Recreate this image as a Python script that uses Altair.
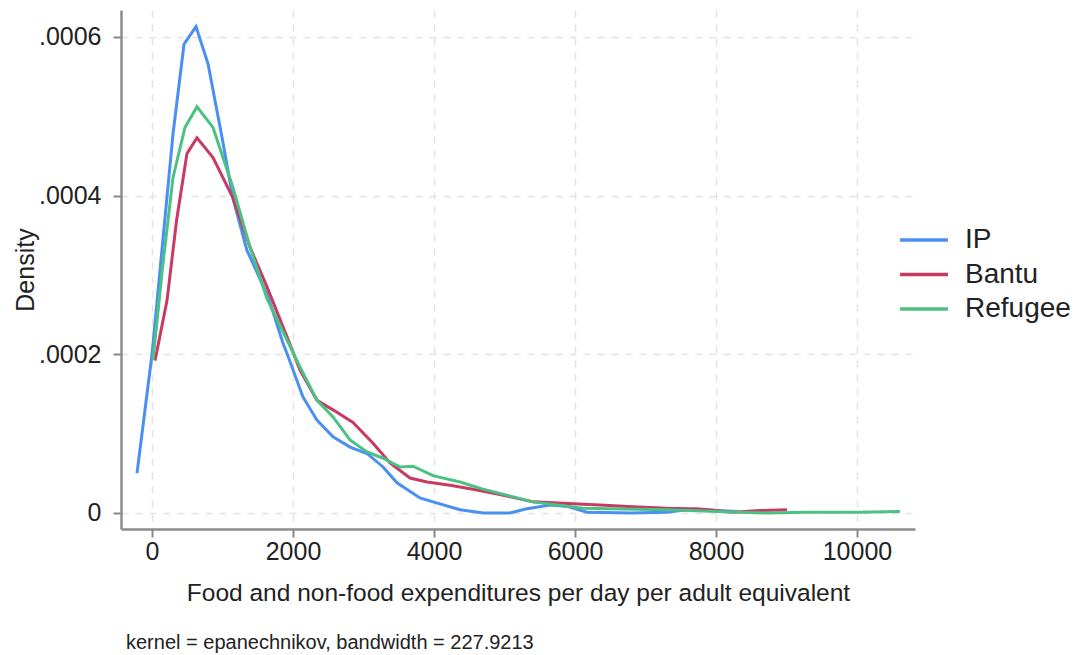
import altair as alt
import pandas as pd

# Density values read in units of 1e-4
ip_x = [-213, 0, 150, 298, 454, 624, 795, 1000, 1149, 1347, 1650, 1858, 1915, 2142, 2340,
        2567, 2809, 3050, 3277, 3475, 3801, 3986, 4369, 4700, 5078, 5300, 5645, 5900, 6170,
        6800, 7300, 7674, 8014, 8300]
ip_d = [0.50, 2.00, 3.40, 4.78, 5.91, 6.13, 5.66, 4.70, 3.96, 3.31, 2.72, 2.14, 2.01, 1.46, 1.17,
        0.96, 0.83, 0.75, 0.58, 0.38, 0.19, 0.14, 0.04, 0.00, 0.00, 0.05, 0.10, 0.08, 0.01,
        0.00, 0.01, 0.05, 0.03, 0.02]

bantu_x = [43, 213, 350, 496, 638, 865, 1149, 1390, 1631, 1915, 2099, 2340, 2567, 2851, 3135,
           3376, 3660, 3901, 4227, 4553, 4900, 5404, 5900, 6355, 6823, 7300, 7773, 8241, 8624, 9007]
bantu_d = [1.92, 2.68, 3.70, 4.53, 4.73, 4.48, 3.97, 3.35, 2.85, 2.22, 1.80, 1.42, 1.30, 1.14, 0.88,
           0.63, 0.44, 0.39, 0.35, 0.30, 0.24, 0.14, 0.12, 0.10, 0.08, 0.06, 0.05, 0.01, 0.03, 0.04]

ref_x = [14, 150, 298, 468, 638, 865, 1149, 1390, 1631, 1915, 2099, 2340, 2567, 2809, 3050,
         3277, 3518, 3702, 3986, 4369, 4695, 5404, 6113, 6700, 7300, 8014, 8723, 9300, 10000, 10610]
ref_d = [1.93, 3.10, 4.23, 4.86, 5.12, 4.86, 4.10, 3.35, 2.70, 2.18, 1.84, 1.42, 1.21, 0.92, 0.77,
         0.69, 0.58, 0.59, 0.47, 0.39, 0.30, 0.14, 0.06, 0.05, 0.04, 0.02, 0.00, 0.01, 0.01, 0.02]

groups = ["IP", "Bantu", "Refugee"]
colors = ["#4a8ff2", "#c93a63", "#4cc184"]
x_ticks = [0, 2000, 4000, 6000, 8000, 10000]
y_ticks = [0, 0.0002, 0.0004, 0.0006]
note = "kernel = epanechnikov, bandwidth = 227.9213"

rows = []
for g, xs, ds in [("IP", ip_x, ip_d), ("Bantu", bantu_x, bantu_d), ("Refugee", ref_x, ref_d)]:
    for i, (x, d) in enumerate(zip(xs, ds)):
        rows.append({"group": g, "x": x, "density": d * 1e-4, "order": i})
df = pd.DataFrame(rows)
legend_df = pd.DataFrame({"group": groups, "idx": list(range(len(groups)))})

FONT = "Liberation Sans"
color_scale = alt.Scale(domain=groups, range=colors)

lines = alt.Chart(df).mark_line(strokeWidth=3).encode(
    x=alt.X("x:Q",
            scale=alt.Scale(domain=[-440, 10823], nice=False, zero=False),
            axis=alt.Axis(values=x_ticks, format="d",
                          title="Food and non-food expenditures per day per adult equivalent",
                          titleFontSize=24.5, titleFontWeight="normal", titleColor="#222",
                          titlePadding=17,
                          labelFontSize=25, labelColor="#222", labelPadding=2,
                          tickSize=8, tickColor="#888", tickWidth=2,
                          domainColor="#8c8c8c", domainWidth=2.5,
                          grid=True, gridColor="#e3e3e3", gridDash=[7, 7], gridWidth=1.5)),
    y=alt.Y("density:Q",
            scale=alt.Scale(domain=[-0.0000202, 0.000634], nice=False, zero=False),
            axis=alt.Axis(values=y_ticks,
                          labelExpr="datum.value == 0 ? '0' : substring(format(datum.value, '.4f'), 1)",
                          title="Density", titleFontSize=25, titleFontWeight="normal",
                          titleColor="#222", titlePadding=0,
                          labelFontSize=25, labelColor="#222", labelPadding=12,
                          tickSize=8, tickColor="#888", tickWidth=2,
                          domainColor="#8c8c8c", domainWidth=2.5,
                          grid=True, gridColor="#e3e3e3", gridDash=[7, 7], gridWidth=1.5)),
    color=alt.Color("group:N", scale=color_scale, sort=groups, legend=None),
    order=alt.Order("order:Q"),
    detail="group:N",
)

# legend built from the groups list (rows placed by a point scale)
leg_y = alt.Y("idx:Q", scale=alt.Scale(domain=[0, 2], range=[230, 299]), axis=None)
leg_rules = alt.Chart(legend_df).mark_rule(strokeWidth=3.5).encode(
    x=alt.value(779), x2=alt.value(827), y=leg_y,
    color=alt.Color("group:N", scale=color_scale, legend=None),
)
leg_text = alt.Chart(legend_df).mark_text(
    align="left", baseline="middle", fontSize=28, font=FONT, color="#222"
).encode(x=alt.value(844), y=leg_y, text="group:N")

note_text = alt.Chart(pd.DataFrame({"t": [note]})).mark_text(
    align="left", baseline="middle", fontSize=20, font=FONT, color="#222"
).encode(x=alt.value(5), y=alt.value(633), text="t:N")

legend_layer = alt.layer(leg_rules, leg_text)

chart = alt.layer(lines, legend_layer, note_text).resolve_scale(y="independent").properties(
    width=794, height=519,
    autosize=alt.AutoSizeParams(type="none"),
    padding={"left": 121, "top": 10, "right": 165, "bottom": 126},
).configure(font=FONT).configure_view(stroke=None)

chart.save("out.html", embed_options={"renderer": "svg", "actions": False})
